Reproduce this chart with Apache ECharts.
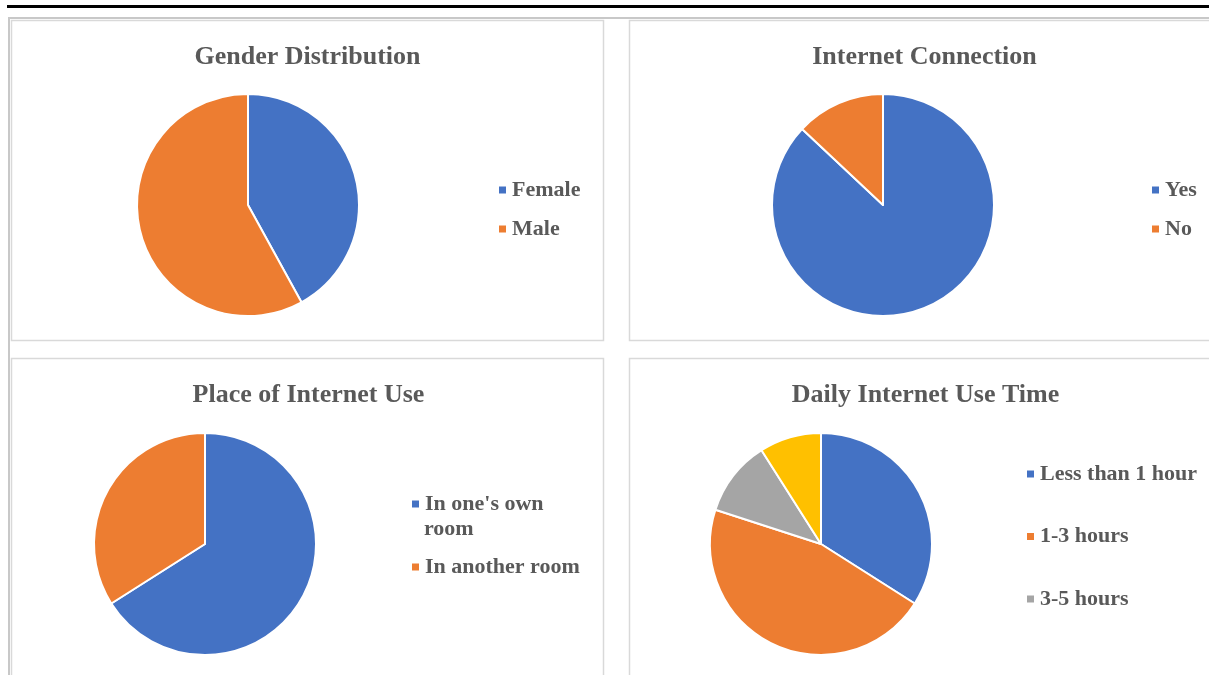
<!DOCTYPE html>
<html>
<head>
<meta charset="utf-8">
<script src="https://cdn.jsdelivr.net/npm/echarts@6/dist/echarts.min.js"></script>
<style>
html,body{margin:0;padding:0;background:#fff;}
#chart{width:1209px;height:675px;}
</style>
</head>
<body>
<div id="chart"></div>
<script>
// ---- Data ----
const genderTitle = 'Gender Distribution';
const genderLabels = ['Female', 'Male'];
const genderValues = [42, 58];

const connTitle = 'Internet Connection';
const connLabels = ['Yes', 'No'];
const connValues = [87, 13];

const placeTitle = 'Place of Internet Use';
const placeLabels = ["In one's own room", 'In another room'];
const placeValues = [66, 34];

const timeTitle = 'Daily Internet Use Time';
const timeLabels = ['Less than 1 hour', '1-3 hours', '3-5 hours', 'More than 5 hours'];
const timeValues = [34, 46, 11, 9];
const timeLegendShown = ['Less than 1 hour', '1-3 hours', '3-5 hours'];

const palette = ['#4472C4', '#ED7D31', '#A5A5A5', '#FFC000'];
const textColor = '#595959';
const serif = '"Liberation Serif", "Times New Roman", serif';

function toData(labels, values) {
  return labels.map((n, i) => ({ name: n, value: values[i], itemStyle: { color: palette[i] } }));
}

const panels = [
  { title: genderTitle, labels: genderLabels, values: genderValues, center: [248, 205], titleX: 302.5, titleY: 52, legendX: 497, legendY: 178, gap: 15 },
  { title: connTitle, labels: connLabels, values: connValues, center: [883, 205], titleX: 919.5, titleY: 52, legendX: 1150, legendY: 178, gap: 15 },
  { title: placeTitle, labels: placeLabels, values: placeValues, center: [205, 544], titleX: 303.5, titleY: 390, legendX: 410, legendY: 492, gap: 39 },
  { title: timeTitle, labels: timeLabels, values: timeValues, center: [821, 544], titleX: 920.5, titleY: 390, legendX: 1025, legendY: 462, gap: 38.5, legendData: timeLegendShown }
];

const chart = echarts.init(document.getElementById('chart'), null, { renderer: 'canvas' });

const series = panels.map((p, i) => ({
  type: 'pie',
  name: p.title,
  center: p.center,
  radius: 111,
  startAngle: 90,
  clockwise: true,
  label: { show: false },
  labelLine: { show: false },
  emphasis: { disabled: true },
  animation: false,
  itemStyle: { borderColor: '#ffffff', borderWidth: 2 },
  data: toData(p.labels, p.values)
}));

const titles = panels.map(p => ({
  text: p.title,
  left: p.titleX,
  top: p.titleY,
  textAlign: 'center',
  textVerticalAlign: 'middle',
  textStyle: { fontFamily: serif, fontWeight: 'bold', fontSize: 26, color: textColor }
}));

const legends = panels.map((p, i) => ({
  orient: 'vertical',
  left: p.legendX,
  top: p.legendY,
  icon: 'rect',
  itemWidth: 9,
  itemHeight: 9,
  itemGap: p.gap,
  padding: 0,
  selectedMode: false,
  data: p.legendData || p.labels,
  formatter: function (name) { return name === "In one's own room" ? "In one's own" : name; },
  textStyle: { fontFamily: serif, fontWeight: 'bold', fontSize: 22, lineHeight: 24, color: textColor }
}));

const boxStroke = '#d9d9d9';
const graphics = [
  { type: 'rect', shape: { x: 7, y: 5, width: 1202, height: 3 }, style: { fill: '#000' } },
  { type: 'rect', shape: { x: 8, y: 17, width: 1201, height: 2 }, style: { fill: '#c8c8c8' } },
  { type: 'rect', shape: { x: 8, y: 17, width: 2, height: 658 }, style: { fill: '#c8c8c8' } },
  { type: 'rect', shape: { x: 11.5, y: 20.5, width: 592, height: 320 }, style: { fill: 'none', stroke: boxStroke, lineWidth: 1.5 } },
  { type: 'rect', shape: { x: 629.5, y: 20.5, width: 600, height: 320 }, style: { fill: 'none', stroke: boxStroke, lineWidth: 1.5 } },
  { type: 'rect', shape: { x: 11.5, y: 358.5, width: 592, height: 340 }, style: { fill: 'none', stroke: boxStroke, lineWidth: 1.5 } },
  { type: 'rect', shape: { x: 629.5, y: 358.5, width: 600, height: 340 }, style: { fill: 'none', stroke: boxStroke, lineWidth: 1.5 } },
  { type: 'text', x: 424, y: 529, style: { text: 'room', fontFamily: serif, fontWeight: 'bold', fontSize: 22, fill: textColor, verticalAlign: 'middle', align: 'left' } }
];

chart.setOption({
  backgroundColor: '#ffffff',
  animation: false,
  title: titles,
  legend: legends,
  graphic: graphics,
  series: series
});
</script>
</body>
</html>
